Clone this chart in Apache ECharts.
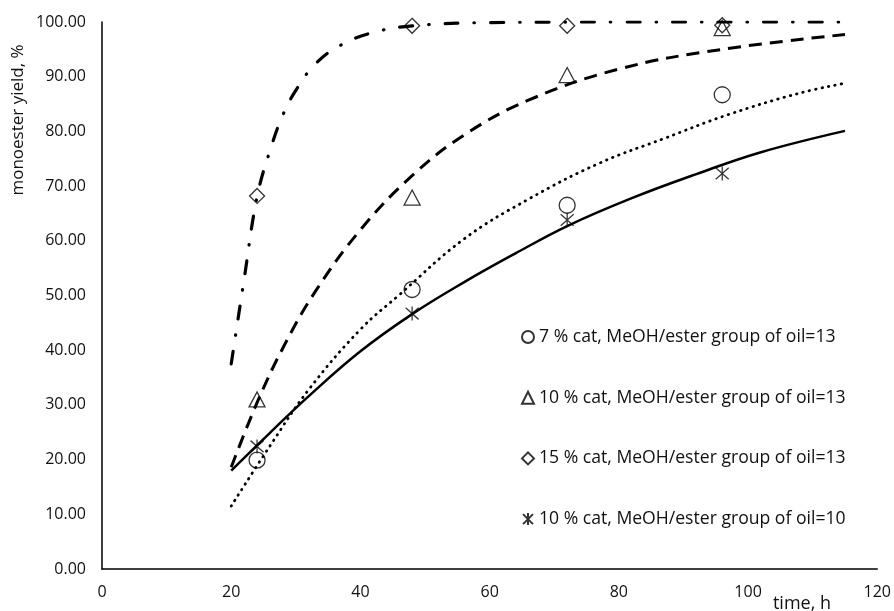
<!DOCTYPE html>
<html>
<head>
<meta charset="utf-8">
<script src="https://cdn.jsdelivr.net/npm/echarts@6/dist/echarts.min.js"></script>
<style>
html,body{margin:0;padding:0;background:#fff;}
#chart{width:894px;height:611px;}
</style>
</head>
<body>
<div id="chart"></div>
<script>
// ---- data ----
var xTicks = [0, 20, 40, 60, 80, 100, 120];
var seriesNames = [
  '7 % cat, MeOH/ester group of oil=13',
  '10 % cat, MeOH/ester group of oil=13',
  '15 % cat, MeOH/ester group of oil=13',
  '10 % cat, MeOH/ester group of oil=10'
];
// measured points (time h, yield %)
var pts7_13  = [[24, 19.9], [48, 51.1], [72, 66.5], [96, 86.7]];
var pts10_13 = [[24, 31.0], [48, 67.9], [72, 90.3], [96, 98.9]];
var pts15_13 = [[24, 68.2], [48, 99.3], [72, 99.3], [96, 99.4]];
var pts10_10 = [[24, 22.4], [48, 46.7], [72, 63.8], [96, 72.3]];
// fitted curves
var fit7_13 = [[20,11.5],[26,22.5],[32,32.8],[40,43.8],[46,50.1],[56,60.3],[66,67.6],[77,74.2],[87,78.7],[97,83.1],[108,87.0],[115,88.8]];
var fit10_13 = [[20,18.6],[24,30.4],[28,40.4],[33,50.7],[40,62.0],[48,71.9],[56,79.3],[66,85.7],[80,91.4],[96,95.0],[115,97.7]];
var fit15_13 = [[20,37.5],[22,53.0],[24,68.0],[26,76.5],[28,83.0],[30,87.5],[33,92.3],[37,95.8],[42,98.1],[48,99.3],[60,99.9],[80,100],[100,100],[115,100]];
var fit10_10 = [[20,18.0],[26,24.9],[32,31.6],[40,39.8],[48,46.6],[56,52.4],[64,57.7],[72,62.7],[82,67.8],[92,72.2],[102,76.2],[115,80.1]];

var FONT = '"Open Sans", "Liberation Sans", sans-serif';
var starPath = 'path://M0,0L10,10M10,0L0,10M5,-1L5,11';

function curve(data, lineStyle) {
  return {
    type: 'line', data: data, smooth: 0.4,
    showSymbol: false, symbol: 'none', silent: true, z: 2,
    lineStyle: Object.assign({ color: '#000' }, lineStyle)
  };
}
function marks(name, data, symbol, size) {
  return {
    type: 'scatter', name: name, data: data, symbol: symbol, symbolSize: size, z: 5,
    itemStyle: { color: 'rgba(0,0,0,0)', borderColor: '#000', borderWidth: 1.3 }
  };
}

var chart = echarts.init(document.getElementById('chart'));
chart.setOption({
  animation: false,
  backgroundColor: '#fff',
  grid: { left: 102, right: 16, top: 22, bottom: 42, containLabel: false },
  xAxis: {
    type: 'value', min: 0, max: 120, interval: 20,
    axisLine: { lineStyle: { color: '#000', width: 1.5 } },
    axisTick: { show: false }, splitLine: { show: false },
    axisLabel: { color: '#111', fontSize: 16, fontFamily: FONT, margin: 15 }
  },
  yAxis: {
    type: 'value', min: 0, max: 100, interval: 10,
    axisLine: { show: true, lineStyle: { color: '#000', width: 1.5 } },
    axisTick: { show: false }, splitLine: { show: false },
    axisLabel: { color: '#111', fontSize: 16, fontFamily: FONT, margin: 16,
      formatter: function (v) { return v.toFixed(2); } }
  },
  legend: {
    orient: 'vertical', left: 516, top: 323,
    itemWidth: 12, itemHeight: 12, itemGap: 42.7,
    textStyle: { color: '#111', fontSize: 17.6, lineHeight: 18, fontFamily: FONT },
    data: seriesNames
  },
  graphic: [
    { type: 'text', x: 18, y: 120, rotation: Math.PI / 2,
      style: { text: 'monoester yield, %', font: '17px ' + FONT, fill: '#111', textAlign: 'center', verticalAlign: 'middle' } },
    { type: 'text', x: 802, y: 604,
      style: { text: 'time, h', font: '18px ' + FONT, fill: '#111', textAlign: 'center', verticalAlign: 'middle' } }
  ],
  series: [
    curve(fit15_13, { width: 3.2, type: [13, 16, 0.5, 16], cap: 'round' }),
    curve(fit10_13, { width: 3, type: [13, 8] }),
    curve(fit7_13, { width: 2.8, type: [0.5, 6], cap: 'round' }),
    curve(fit10_10, { width: 2.5, type: 'solid' }),
    marks(seriesNames[0], pts7_13, 'circle', 16),
    marks(seriesNames[1], pts10_13, 'triangle', [16, 15]),
    marks(seriesNames[2], pts15_13, 'diamond', [15, 15]),
    marks(seriesNames[3], pts10_10, starPath, [13, 14])
  ]
});
</script>
</body>
</html>
